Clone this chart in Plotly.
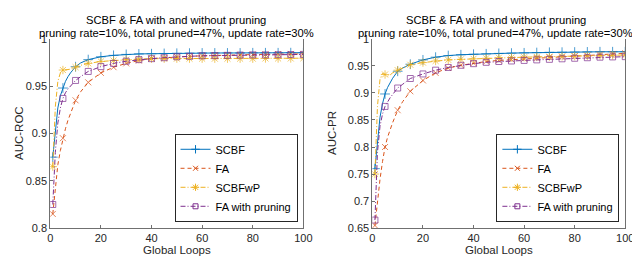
import plotly.graph_objects as go

loops = [1, 2, 3, 4, 5, 6, 7, 8, 10, 12, 15, 20, 25, 30, 35, 40, 45, 50, 55, 60, 65, 70, 75, 80, 85, 90, 95, 100]
marker_loops = [1, 5, 10, 15, 20, 25, 30, 35, 40, 45, 50, 55, 60, 65, 70, 75, 80, 85, 90, 95, 100]

# AUC-ROC (left)
roc_scbf = [0.875, 0.905, 0.927, 0.940, 0.948, 0.955, 0.960, 0.964, 0.9705, 0.9745, 0.978, 0.981, 0.9825, 0.9835,
            0.984, 0.9842, 0.9845, 0.9847, 0.9848, 0.985, 0.985, 0.985, 0.985, 0.9852, 0.9852, 0.9852, 0.9853, 0.9853]
roc_fa = [0.815, 0.845, 0.867, 0.882, 0.895, 0.905, 0.914, 0.921, 0.935, 0.944, 0.954, 0.964, 0.970, 0.974,
          0.977, 0.979, 0.980, 0.981, 0.9815, 0.982, 0.9825, 0.983, 0.983, 0.9833, 0.9835, 0.9837, 0.984, 0.984]
roc_scbfwp = [0.865, 0.928, 0.955, 0.964, 0.967, 0.967, 0.9675, 0.968, 0.970, 0.972, 0.974, 0.976, 0.977, 0.978,
              0.9785, 0.979, 0.979, 0.979, 0.979, 0.979, 0.979, 0.979, 0.979, 0.979, 0.9792, 0.9792, 0.9792, 0.9795]
roc_fawp = [0.825, 0.880, 0.911, 0.927, 0.937, 0.943, 0.947, 0.950, 0.956, 0.960, 0.9655, 0.9706, 0.974, 0.9763,
            0.978, 0.979, 0.980, 0.981, 0.9815, 0.982, 0.9822, 0.9825, 0.9828, 0.983, 0.983, 0.9832, 0.9833, 0.9835]

# AUC-PR (right)
pr_scbf = [0.760, 0.815, 0.855, 0.880, 0.898, 0.910, 0.920, 0.927, 0.940, 0.946, 0.953, 0.961, 0.966, 0.969,
           0.9705, 0.9715, 0.9722, 0.973, 0.9735, 0.974, 0.9745, 0.975, 0.9752, 0.9755, 0.9757, 0.976, 0.976, 0.976]
pr_fa = [0.655, 0.700, 0.740, 0.773, 0.800, 0.818, 0.833, 0.845, 0.868, 0.884, 0.903, 0.923, 0.937, 0.946,
         0.951, 0.955, 0.958, 0.960, 0.9615, 0.963, 0.9645, 0.966, 0.967, 0.968, 0.969, 0.971, 0.972, 0.973]
pr_scbfwp = [0.750, 0.875, 0.925, 0.936, 0.934, 0.931, 0.933, 0.937, 0.942, 0.946, 0.952, 0.956, 0.959, 0.961,
             0.962, 0.963, 0.964, 0.965, 0.9655, 0.966, 0.9665, 0.967, 0.9675, 0.968, 0.9685, 0.969, 0.9695, 0.970]
pr_fawp = [0.665, 0.790, 0.838, 0.861, 0.875, 0.884, 0.891, 0.897, 0.909, 0.916, 0.9266, 0.935, 0.942, 0.947,
           0.951, 0.954, 0.9565, 0.958, 0.959, 0.960, 0.961, 0.962, 0.963, 0.964, 0.965, 0.966, 0.9665, 0.967]

series_names = ["SCBF", "FA", "SCBFwP", "FA with pruning"]
colors = ["#0072BD", "#D95319", "#EDB120", "#7E2F8E"]
dashes = ["solid", "4px,3px", "5px,2px,1px,2px", "5px,2px,1px,2px"]
symbols = ["cross-thin-open", "x-thin-open", "asterisk-open", "square-open"]
msizes = [7, 6, 7, 6]

W, H = 640, 256
FONT = "Liberation Sans, Arial, sans-serif"
TXT = "#262626"
AX = "#707070"

fig = go.Figure()

panels = [
    (1, [roc_scbf, roc_fa, roc_scbfwp, roc_fawp], "legend"),
    (2, [pr_scbf, pr_fa, pr_scbfwp, pr_fawp], "legend2"),
]
for idx, data, leg in panels:
    xa = "x" if idx == 1 else "x2"
    ya = "y" if idx == 1 else "y2"
    for k, vals in enumerate(data):
        sizes = [msizes[k] if l in marker_loops else 0 for l in loops]
        fig.add_trace(go.Scatter(
            x=loops, y=vals, mode="lines+markers", xaxis=xa, yaxis=ya,
            line=dict(color=colors[k], width=1, dash=dashes[k]),
            marker=dict(symbol=symbols[k], size=sizes, color=colors[k],
                        line=dict(color=colors[k], width=1)),
            showlegend=False, name=series_names[k]))
        # legend entry
        fig.add_trace(go.Scatter(
            x=[None], y=[None], mode="lines+markers", xaxis=xa, yaxis=ya,
            line=dict(color=colors[k], width=1, dash=dashes[k]),
            marker=dict(symbol=symbols[k], size=msizes[k] - 1, color=colors[k],
                        line=dict(color=colors[k], width=1)),
            showlegend=True, legend=leg, name=series_names[k]))

y_bot = 1 - 224.7 / H
y_top = 1 - 26 / H
xl = [40 / W, 298 / W]
xr = [368.3 / W, 626 / W]

axis_common = dict(showline=True, linecolor=AX, linewidth=1, ticks="inside", ticklen=3,
                   tickcolor=AX, showgrid=False, zeroline=False,
                   tickfont=dict(family=FONT, size=11, color=TXT))

x_ticks = [0, 20, 40, 60, 80, 100]
roc_ticks = [0.8, 0.85, 0.9, 0.95, 1.0]
roc_labels = ["0.8", "0.85", "0.9", "0.95", "1"]
pr_ticks = [0.65, 0.7, 0.75, 0.8, 0.85, 0.9, 0.95, 1.0]
pr_labels = ["0.65", "0.7", "0.75", "0.8", "0.85", "0.9", "0.95", "1"]

leg_common = dict(xanchor="right", yanchor="bottom",
                  bgcolor="white", bordercolor="#262626", borderwidth=1,
                  font=dict(family=FONT, size=11, color="black"), itemwidth=30,
                  tracegroupgap=0)

fig.update_layout(
    width=W, height=H, margin=dict(l=0, r=0, t=0, b=0),
    paper_bgcolor="white", plot_bgcolor="white",
    xaxis=dict(domain=xl, range=[0, 100], tickvals=x_ticks, anchor="y", **axis_common),
    yaxis=dict(domain=[y_bot, y_top], range=[0.8, 1.0], tickvals=roc_ticks, ticktext=roc_labels,
               anchor="x", mirror=True, **axis_common),
    xaxis2=dict(domain=xr, range=[0, 100], tickvals=x_ticks, anchor="y2", **axis_common),
    yaxis2=dict(domain=[y_bot, y_top], range=[0.65, 1.0], tickvals=pr_ticks, ticktext=pr_labels,
                anchor="x2", mirror=True, **axis_common),
    legend=dict(x=292 / W, y=1 - 218 / H, **leg_common),
    legend2=dict(x=620 / W, y=1 - 218 / H, **leg_common),
)

title1 = "SCBF & FA with and without pruning"
title2 = "pruning rate=10%, total pruned=47%, update rate=30%"
centers = [168.5 / W, 494 / W]
ylabels = ["AUC-ROC", "AUC-PR"]
ylab_x = [8 / W, 327 / W]
plot_centers = [(xl[0] + xl[1]) / 2, (xr[0] + xr[1]) / 2]
for i, cx in enumerate(centers):
    fig.add_annotation(x=cx, y=1 - 6.5 / H, xref="paper", yref="paper", text=title1, showarrow=False,
                       font=dict(family=FONT, size=11.2, color="black"), xanchor="center", yanchor="middle")
    fig.add_annotation(x=cx, y=1 - 19.5 / H, xref="paper", yref="paper", text=title2, showarrow=False,
                       font=dict(family=FONT, size=11.2, color="black"), xanchor="center", yanchor="middle")
    fig.add_annotation(x=plot_centers[i], y=1 - 248 / H, xref="paper", yref="paper", text="Global Loops",
                       showarrow=False,
                       font=dict(family=FONT, size=11.5, color=TXT), xanchor="center", yanchor="middle")
    fig.add_annotation(x=ylab_x[i], y=1 - 125 / H, xref="paper", yref="paper", text=ylabels[i],
                       showarrow=False, textangle=-90,
                       font=dict(family=FONT, size=11.5, color=TXT), xanchor="center", yanchor="middle")

fig.write_html("out.html")
